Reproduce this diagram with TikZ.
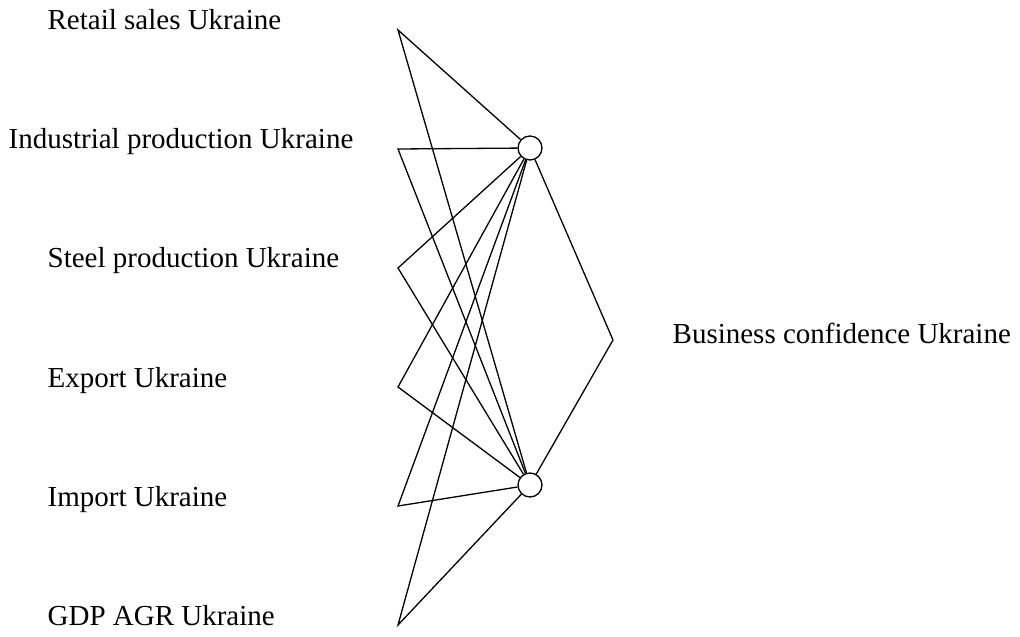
\documentclass[tikz,border=0pt]{standalone}
\usepackage{fontspec}
\setmainfont{Liberation Serif}
\usepackage{tikz}

\begin{document}
\begin{tikzpicture}[x=1bp, y=-1bp, line width=1.3bp,
	every node/.style={font=\fontsize{29bp}{34bp}\selectfont},
	neuron/.style={draw, circle, fill=white, minimum size=24bp, inner sep=0pt}]
	\useasboundingbox (0,0) rectangle (1020,637);
	% inputs
	\foreach \i/\lx/\txt in {0/47/Retail sales Ukraine, 1/8/Industrial production Ukraine, 2/47/Steel production Ukraine, 3/47/Export Ukraine, 4/47/Import Ukraine, 5/47/GDP AGR Ukraine} {
		\coordinate (in\i) at (398,30+119*\i);
		\node[anchor=base west, inner sep=0pt] (lab\i) at (\lx,30+119*\i) {\txt};
	}
	% hidden layer and output
	\node[neuron] (h1) at (530,148) {};
	\node[neuron] (h2) at (530,485) {};
	\coordinate (out) at (613,340);
	\node[anchor=base west, inner sep=0pt] (outlab) at (672,343) {Business confidence Ukraine};
	\foreach \i in {0,...,5} {\draw (h1) -- (in\i) -- (h2);}
	\draw (h1) -- (out) -- (h2);
\end{tikzpicture}
\end{document}
